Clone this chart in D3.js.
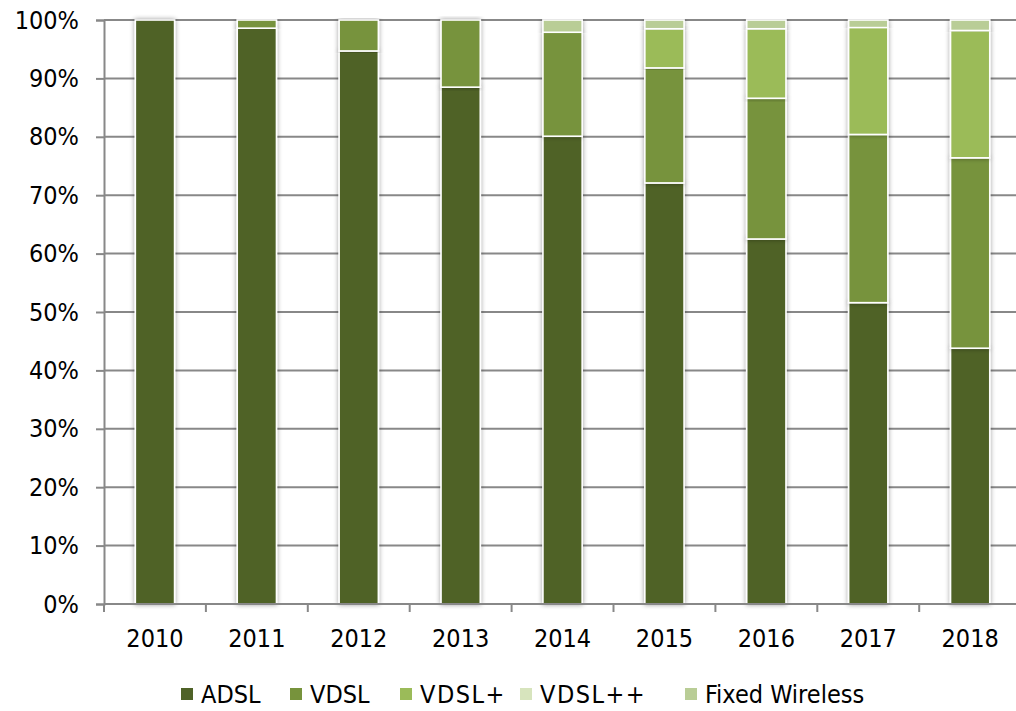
<!DOCTYPE html>
<html>
<head>
<meta charset="utf-8">
<script src="https://cdn.jsdelivr.net/npm/d3@7"></script>
<style>
  html, body { margin: 0; padding: 0; background: #fff; }
  svg { display: block; font-family: "DejaVu Sans Condensed", "DejaVu Sans", sans-serif; font-stretch: condensed; }
</style>
</head>
<body>
<svg id="chart" width="1016" height="711"></svg>
<script>
// Share of broadband connections by access technology (percent of total)
const years = ["2010", "2011", "2012", "2013", "2014", "2015", "2016", "2017", "2018"];
const seriesNames = ["ADSL", "VDSL", "VDSL+", "VDSL++", "Fixed Wireless"];
const adsl          = [100, 98.6, 94.7, 88.5, 80.1, 72.1, 62.5, 51.6, 43.8];
const vdsl          = [0,   1.4,  5.3,  11.5, 17.8, 19.7, 24.1, 28.8, 32.6];
const vdslPlus      = [0,   0,    0,    0,    0,    6.7,  11.9, 18.3, 21.8];
const vdslPlusPlus  = [0,   0,    0,    0,    0,    0,    0,    0,    0];
const fixedWireless = [0,   0,    0,    0,    2.1,  1.5,  1.5,  1.3,  1.8];
const yTicks = [0, 10, 20, 30, 40, 50, 60, 70, 80, 90, 100];
const colors = ["#4f6228", "#77933c", "#9bbb59", "#d7e4bd", "#b9cd96"];

const FONT = "DejaVu Sans Condensed, DejaVu Sans, sans-serif";

const seriesValues = [adsl, vdsl, vdslPlus, vdslPlusPlus, fixedWireless];
const rows = years.map((yr, i) => {
  const r = { year: yr };
  seriesNames.forEach((s, k) => r[s] = seriesValues[k][i]);
  return r;
});

const svg = d3.select("#chart");
const plotLeft = 104, plotTop = 20, plotBottom = 604;
const bandW = 101.9;
const plotRight = plotLeft + bandW * years.length;

const x = d3.scaleBand().domain(years).range([plotLeft, plotRight]).paddingInner(0.615).paddingOuter(0.3075);
const y = d3.scaleLinear().domain([0, 100]).range([plotBottom, plotTop]);

// soft shadow around the bars
const defs = svg.append("defs");
const f = defs.append("filter").attr("id", "shadow").attr("x", "-30%").attr("y", "-5%").attr("width", "160%").attr("height", "110%");
f.append("feGaussianBlur").attr("in", "SourceAlpha").attr("stdDeviation", 2.4).attr("result", "b");
f.append("feComponentTransfer").attr("in", "b").attr("result", "s")
  .append("feFuncA").attr("type", "linear").attr("slope", 0.4);
const m = f.append("feMerge");
m.append("feMergeNode").attr("in", "s");
m.append("feMergeNode").attr("in", "SourceGraphic");

// horizontal gridlines
svg.append("g").selectAll("line").data(yTicks.filter(d => d > 0)).join("line")
  .attr("x1", plotLeft).attr("x2", plotRight)
  .attr("y1", d => y(d)).attr("y2", d => y(d))
  .attr("stroke", "#888888").attr("stroke-width", 2);

// stacked bars
const stack = d3.stack().keys(seriesNames)(rows);
const gBars = svg.append("g");
stack.forEach((layer, k) => {
  gBars.append("g").selectAll("rect")
    .data(layer.filter(d => d[1] - d[0] > 0))
    .join("rect")
    .attr("x", d => x(d.data.year))
    .attr("width", x.bandwidth())
    .attr("y", d => y(d[1]))
    .attr("height", d => y(d[0]) - y(d[1]))
    .attr("fill", colors[k])
    .attr("stroke", "#ffffff")
    .attr("stroke-width", 1.6)
    .attr("filter", "url(#shadow)");
});

// y axis
const yAxis = svg.append("g").attr("transform", `translate(${plotLeft},0)`)
  .call(d3.axisLeft(y).tickValues(yTicks).tickFormat(d => d + "%").tickSize(8).tickPadding(17));
yAxis.select(".domain").attr("stroke", "#888888").attr("stroke-width", 2);
yAxis.selectAll(".tick line").attr("stroke", "#888888").attr("stroke-width", 2);
yAxis.selectAll("text").attr("font-size", 25).attr("fill", "#000").attr("font-family", FONT);

// x axis with ticks at band boundaries
const xAxis = svg.append("g").attr("transform", `translate(0,${plotBottom})`)
  .call(d3.axisBottom(x).tickSize(0).tickPadding(25));
xAxis.select(".domain").attr("stroke", "#888888").attr("stroke-width", 2)
  .attr("d", `M${plotLeft},0H${plotRight}`);
xAxis.selectAll("text").attr("font-size", 25).attr("fill", "#000").attr("font-family", FONT);
xAxis.append("g").selectAll("line")
  .data(d3.range(years.length + 1).map(i => plotLeft + i * x.step()))
  .join("line")
  .attr("x1", d => d).attr("x2", d => d)
  .attr("y1", 0).attr("y2", 8)
  .attr("stroke", "#888888").attr("stroke-width", 2);

// legend
const legendX = [181, 290, 400, 520, 685];
const lg = svg.append("g");
seriesNames.forEach((s, k) => {
  const g = lg.append("g").attr("transform", `translate(${legendX[k]},688)`);
  g.append("rect").attr("width", 12).attr("height", 12).attr("fill", colors[k]);
  g.append("text").attr("x", 20).attr("y", 15).attr("font-size", 25)
    .attr("font-family", FONT).attr("letter-spacing", s.includes("+") ? 1.5 : 0)
    .attr("fill", "#000").text(s);
});
</script>
</body>
</html>
